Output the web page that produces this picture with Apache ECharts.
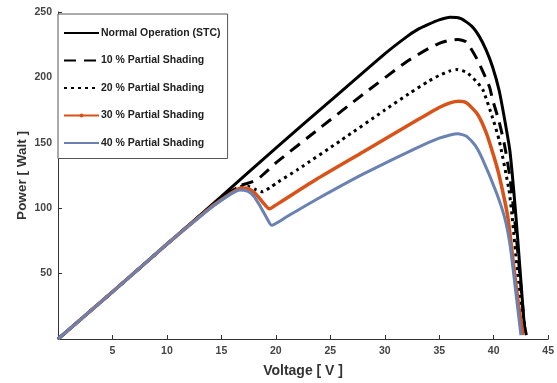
<!DOCTYPE html>
<html>
<head>
<meta charset="utf-8">
<script src="https://cdn.jsdelivr.net/npm/echarts@6/dist/echarts.min.js"></script>
<style>
  html, body { margin: 0; padding: 0; background: #fff; }
  #chart { width: 557px; height: 383px; }
</style>
</head>
<body>
<div id="chart"></div>
<script>
// 图例名称
const seriesNames = [
  'Normal Operation (STC)',
  '10 % Partial Shading',
  '20 % Partial Shading',
  '30 % Partial Shading',
  '40 % Partial Shading'
]

// 坐标轴刻度
const xTicks = [0, 5, 10, 15, 20, 25, 30, 35, 40, 45]
const yTicks = [0, 50, 100, 150, 200, 250]

// P-V 曲线 [电压 V, 功率 W]
const normalOp = [
  [0, 0], [5, 36], [10, 72.5], [15, 109], [20, 146], [25, 182], [30, 218],
  [32, 231], [33, 236.5], [34, 240.5], [35, 244], [36, 246], [37, 245],
  [38, 239], [38.7, 231], [39.3, 221], [39.9, 208], [40.5, 190], [41, 168],
  [41.5, 143], [42, 98], [42.4, 55], [42.8, 12], [43, 3]
]
const shade10 = [
  [0, 0], [5, 36], [10, 72.5], [14, 101], [15, 107.5], [16, 113.5],
  [16.8, 117.5], [17.6, 119.5], [18.3, 122], [19, 127], [20.2, 136],
  [24, 161], [28, 187], [32, 212], [34, 222], [35, 226], [36, 228.5],
  [36.7, 229], [37.5, 227], [38.5, 213.5], [39.6, 193], [39.9, 183],
  [40.5, 166], [41, 148], [41.5, 123], [42, 85], [42.5, 40], [42.9, 3]
]
const shade20 = [
  [0, 0], [5, 36], [10, 72.5], [14, 100.5], [15, 107], [16, 113],
  [16.7, 116.5], [17.5, 116.5], [18.2, 114], [18.8, 112.5], [19.5, 116],
  [20.2, 120], [22, 129.5], [26, 152], [30, 175], [32.3, 188], [34, 197],
  [35, 201.5], [36, 205], [36.6, 206], [37.5, 204], [38.4, 197], [39, 190.6],
  [39.9, 169], [40.5, 152], [41.4, 114], [41.7, 93], [42.2, 50], [42.9, 3]
]
const shade30 = [
  [0, 0], [5, 36], [10, 72.5], [14, 100.5], [15, 106.5], [16, 112],
  [16.8, 115.5], [17.5, 115], [18.2, 110.5], [18.8, 104.5], [19.4, 99.5],
  [20.2, 103.5], [23.8, 122.5], [28, 143], [32.9, 167], [35, 177],
  [36, 180.5], [36.8, 181.7], [37.5, 180.5], [38.5, 172], [39.3, 158],
  [40, 140], [40.5, 125], [41.3, 93], [41.9, 51], [42.3, 25], [42.7, 3]
]
const shade40 = [
  [0, 0], [5, 36], [10, 72.5], [14, 100], [15, 106], [16, 111.5],
  [16.7, 114], [17.4, 113], [18, 109], [18.6, 101], [19.2, 92], [19.6, 87],
  [21, 93.5], [23.8, 107], [28, 126], [32.9, 146], [35, 153.5], [36, 156],
  [36.7, 157], [37.5, 155], [38.3, 148], [39, 137], [40.2, 113], [41, 93],
  [41.5, 72], [42, 38], [42.5, 3]
]

const fontFamily = '"Liberation Sans", Arial, sans-serif'
const axisColor = '#333'

const chart = echarts.init(document.getElementById('chart'), null, { renderer: 'canvas' })

// 曲线系列
const lineSeries = (name, data, color, width, type) => ({
  name,
  type: 'line',
  data,
  symbol: 'circle',
  symbolSize: 4,
  showSymbol: false,
  smooth: 0.2,
  lineStyle: { color, width, type },
  itemStyle: { color },
  emphasis: { disabled: true },
  animation: false
})

const option = {
  animation: false,
  grid: { left: 58, right: 5, top: 12, bottom: 43 },
  legend: {
    orient: 'vertical',
    left: 58,
    top: 14,
    padding: [13.5, 7, 10, 5],
    itemWidth: 35,
    itemHeight: 5,
    itemGap: 16.5,
    backgroundColor: '#fff',
    borderColor: '#555',
    borderWidth: 1,
    itemStyle: { opacity: 0 },
    textStyle: { fontFamily, fontWeight: 'bold', fontSize: 10.5, color: '#222', padding: [0, 0, 0, -3] },
    data: [
      seriesNames[0],
      seriesNames[1],
      seriesNames[2],
      { name: seriesNames[3], itemStyle: { opacity: 1 } },
      seriesNames[4]
    ]
  },
  xAxis: {
    type: 'value',
    min: xTicks[0],
    max: xTicks[xTicks.length - 1],
    interval: 5,
    name: 'Voltage [ V ]',
    nameLocation: 'middle',
    nameGap: 25,
    nameMoveOverlap: false,
    nameTextStyle: { fontFamily, fontWeight: 'bold', fontSize: 14, color: '#333' },
    axisLine: { lineStyle: { color: axisColor, width: 1 } },
    axisTick: { inside: true, length: 4, lineStyle: { color: axisColor } },
    axisLabel: { showMinLabel: false, margin: 7, fontFamily, fontWeight: 'bold', fontSize: 10.5, color: '#444' },
    splitLine: { show: false }
  },
  yAxis: {
    type: 'value',
    min: yTicks[0],
    max: yTicks[yTicks.length - 1],
    interval: 50,
    name: 'Power [ Walt ]',
    nameLocation: 'middle',
    nameGap: 29,
    nameMoveOverlap: false,
    nameTextStyle: { fontFamily, fontWeight: 'bold', fontSize: 13.5, color: '#333' },
    axisLine: { show: true, lineStyle: { color: axisColor, width: 1 } },
    axisTick: { show: true, inside: true, length: 4, lineStyle: { color: axisColor } },
    axisLabel: { showMinLabel: false, margin: 6, fontFamily, fontWeight: 'bold', fontSize: 10.5, color: '#444' },
    splitLine: { show: false }
  },
  series: [
    lineSeries(seriesNames[0], normalOp, '#000', 3, 'solid'),
    lineSeries(seriesNames[1], shade10, '#000', 3, [12, 8]),
    lineSeries(seriesNames[2], shade20, '#000', 3, [3, 4]),
    lineSeries(seriesNames[3], shade30, '#D95319', 3.5, 'solid'),
    lineSeries(seriesNames[4], shade40, '#6A82B2', 3, 'solid')
  ]
}

chart.setOption(option)
</script>
</body>
</html>
